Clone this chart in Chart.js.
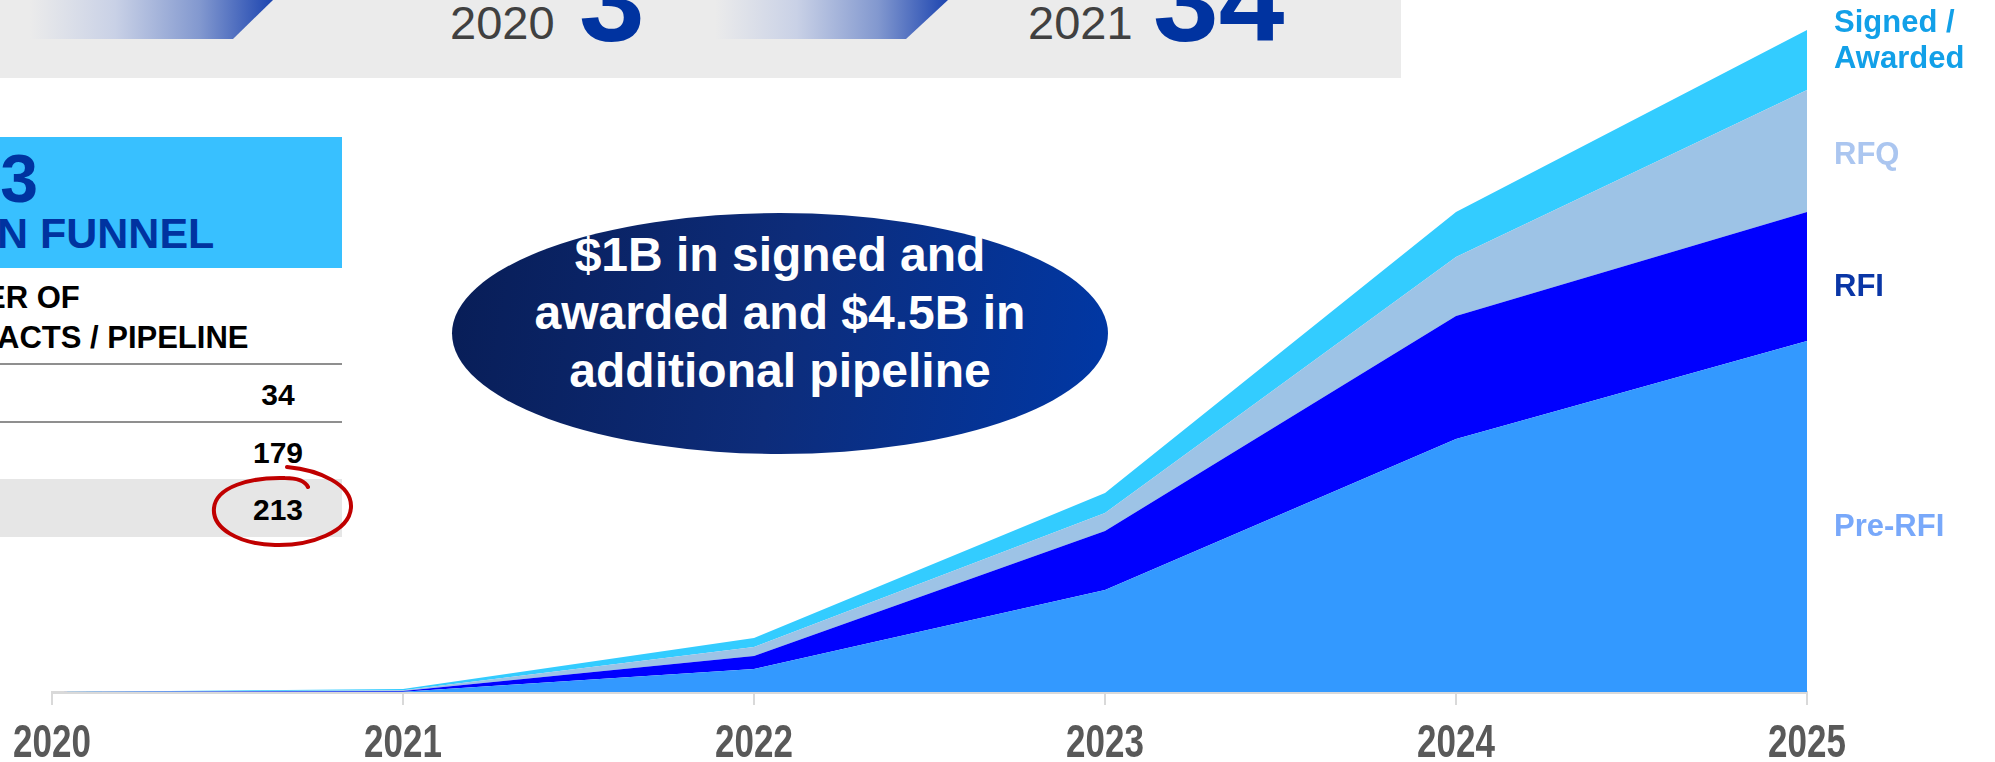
<!DOCTYPE html>
<html>
<head>
<meta charset="utf-8">
<script src="https://cdn.jsdelivr.net/npm/chart.js"></script>
<style>
  html, body { margin:0; padding:0; width:1995px; height:762px; overflow:hidden; background:#ffffff; }
  body { position:relative; font-family:"Liberation Sans", Arial, sans-serif; }
  .abs { position:absolute; white-space:nowrap; line-height:1; }
  #chartWrap { position:absolute; left:0; top:0; width:1995px; height:762px; }
</style>
</head>
<body>
<!-- top banner -->
<div class="abs" style="left:0;top:0;width:1401px;height:78px;background:#ebebeb;"></div>
<div class="abs" style="left:30px;top:0;width:243px;height:39px;background:linear-gradient(to right,#ebebeb 0%,#c9d1e6 35%,#8298cf 70%,#1d45b0 100%);clip-path:polygon(0 0,243px 0,203px 39px,0 39px);"></div>
<div class="abs" style="left:715px;top:0;width:233px;height:39px;background:linear-gradient(to right,#ebebeb 0%,#c9d1e6 35%,#8298cf 70%,#1d45b0 100%);clip-path:polygon(0 0,233px 0,191px 39px,0 39px);"></div>
<div class="abs" style="left:450px;top:-1px;font-size:47px;color:#404040;">2020</div>
<div class="abs" style="left:579px;top:-59px;font-size:118px;font-weight:bold;color:#0033a0;">3</div>
<div class="abs" style="left:1028px;top:-1px;font-size:47px;color:#404040;">2021</div>
<div class="abs" style="left:1153px;top:-59px;font-size:118px;font-weight:bold;color:#0033a0;">34</div>

<!-- left panel -->
<div class="abs" style="left:0;top:137px;width:342px;height:131px;background:#38c0ff;"></div>
<div class="abs" style="left:-200px;top:144px;width:238px;text-align:right;font-size:68px;font-weight:bold;color:#0033a0;">213</div>
<div class="abs" style="left:-3px;top:212px;font-size:43px;font-weight:bold;color:#0033a0;">N FUNNEL</div>
<div class="abs" style="left:-15px;top:282px;font-size:31px;font-weight:bold;color:#000;">ER OF</div>
<div class="abs" style="left:-3px;top:322px;font-size:31px;font-weight:bold;color:#000;">ACTS / PIPELINE</div>
<div class="abs" style="left:0;top:363px;width:342px;height:2px;background:#8f8f8f;"></div>
<div class="abs" style="left:0;top:421px;width:342px;height:2px;background:#8f8f8f;"></div>
<div class="abs" style="left:0;top:479px;width:342px;height:58px;background:#e6e6e6;"></div>
<div class="abs" style="left:228px;top:380px;width:100px;text-align:center;font-size:30px;font-weight:bold;color:#000;">34</div>
<div class="abs" style="left:228px;top:438px;width:100px;text-align:center;font-size:30px;font-weight:bold;color:#000;">179</div>
<div class="abs" style="left:228px;top:495px;width:100px;text-align:center;font-size:30px;font-weight:bold;color:#000;">213</div>
<svg class="abs" style="left:0;top:0;" width="400" height="600">
  <path d="M 287 467 C 320 470, 352 485, 351 507 C 350 532, 310 546, 275 545 C 238 544, 212 528, 214 508 C 216 487, 250 477, 285 478 C 296 478, 305 481, 308 487" fill="none" stroke="#c00000" stroke-width="4" stroke-linecap="round"/>
</svg>

<!-- ellipse callout -->
<div class="abs" style="left:452px;top:213px;width:656px;height:241px;border-radius:50%;background:linear-gradient(100deg,#081d56 0%,#0d2c7a 50%,#0038a6 100%);"></div>
<div class="abs" style="left:452px;top:226px;width:656px;text-align:center;font-size:48px;line-height:58px;font-weight:bold;color:#ffffff;">$1B in signed and<br>awarded and $4.5B in<br>additional pipeline</div>

<!-- chart -->
<div id="chartWrap"><canvas id="c" width="1995" height="762"></canvas></div>

<!-- series labels -->
<div class="abs" style="left:1834px;top:6px;font-size:31px;font-weight:bold;color:#12a0e8;">Signed /</div>
<div class="abs" style="left:1834px;top:42px;font-size:31px;font-weight:bold;color:#12a0e8;">Awarded</div>
<div class="abs" style="left:1834px;top:138px;font-size:31px;font-weight:bold;color:#abc6f0;">RFQ</div>
<div class="abs" style="left:1834px;top:270px;font-size:31px;font-weight:bold;color:#0a36a6;">RFI</div>
<div class="abs" style="left:1834px;top:510px;font-size:31px;font-weight:bold;color:#78a8fa;">Pre-RFI</div>

<script>
const years = ['2020', '2021', '2022', '2023', '2024', '2025'];
const preRfi = [0, 0.3, 23, 102, 253, 351];
const rfi = [0, 0.8, 13, 59, 123, 129];
const rfq = [0, 0.7, 9, 18, 59, 122];
const signed = [0, 1.2, 9, 20, 45, 60];

function ds(label, data, color, fill) {
  return { label, data, backgroundColor: color, borderColor: color, borderWidth: 0,
           pointRadius: 0, tension: 0, fill };
}

// tick labels in the source are tall and narrow: stretch them vertically
const LABEL_STRETCH = 1.3;
const stretchLabels = {
  id: 'stretchLabels',
  beforeDraw(chart) {
    const s = chart.scales.x;
    if (s && !s._stretched) {
      const orig = s.drawLabels.bind(s);
      s.drawLabels = function (area) {
        const ctx = this.ctx, y0 = this.top;
        ctx.save();
        ctx.translate(0, y0);
        ctx.scale(1, LABEL_STRETCH);
        ctx.translate(0, -y0);
        orig(area);
        ctx.restore();
      };
      s._stretched = true;
    }
  }
};

new Chart(document.getElementById('c'), {
  type: 'line',
  data: {
    labels: years,
    datasets: [
      ds('Pre-RFI', preRfi, '#3399ff', 'origin'),
      ds('RFI', rfi, '#0000ff', '-1'),
      ds('RFQ', rfq, '#9dc3e6', '-1'),
      ds('Signed / Awarded', signed, '#33ccff', '-1')
    ]
  },
  plugins: [stretchLabels],
  options: {
    responsive: false,
    animation: false,
    devicePixelRatio: 1,
    layout: { padding: { left: 52, right: 188, top: 12, bottom: 0 } },
    plugins: { legend: { display: false }, tooltip: { enabled: false } },
    scales: {
      x: {
        type: 'category',
        offset: false,
        grid: { display: true, drawOnChartArea: false, drawTicks: true, tickLength: 13, color: '#d9d9d9', lineWidth: 2 },
        border: { display: true, color: '#d9d9d9', width: 3 },
        ticks: { color: '#595959', autoSkip: false, maxRotation: 0, padding: 6,
                 font: { family: '"Liberation Sans", Arial, sans-serif', size: 35, weight: 'bold' } },
        afterFit: (s) => { s.height = 70; }
      },
      y: { display: false, stacked: true, min: 0, max: 680 }
    }
  }
});
</script>
</body>
</html>
